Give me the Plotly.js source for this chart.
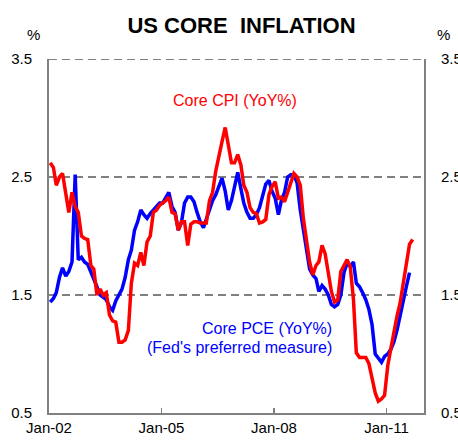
<!DOCTYPE html>
<html>
<head>
<meta charset="utf-8">
<script src="https://cdn.plot.ly/plotly-3.0.1.min.js"></script>
<style>html,body{margin:0;padding:0;background:#fff;}#chart{width:458px;height:442px;}</style>
</head>
<body>
<div id="chart"></div>
<script>
// Monthly data starting Jan 2002
const startYear = 2002;
const coreCPI = [
  2.62, 2.58, 2.43, 2.50, 2.53, 2.35, 2.20, 2.37, 2.25, 2.20, 2.00, 1.98,
  1.97, 1.75, 1.72, 1.50, 1.55, 1.50, 1.52, 1.33, 1.28, 1.27, 1.10, 1.10,
  1.12, 1.20, 1.60, 1.77, 1.75, 1.86, 1.75, 1.95, 2.00, 2.20, 2.22, 2.26,
  2.28, 2.30, 2.33, 2.20, 2.19, 2.05, 2.12, 2.12, 1.92, 2.10, 2.12, 2.12,
  2.11, 2.11, 2.11, 2.30, 2.37, 2.55, 2.66, 2.80, 2.92, 2.75, 2.62, 2.62,
  2.69, 2.60, 2.43, 2.37, 2.24, 2.20, 2.19, 2.11, 2.12, 2.14, 2.35, 2.42,
  2.46, 2.32, 2.33, 2.29, 2.37, 2.45, 2.53, 2.50, 2.43, 2.15, 1.95, 1.78,
  1.67, 1.75, 1.78, 1.92, 1.85, 1.70, 1.53, 1.44, 1.46, 1.70, 1.75, 1.80,
  1.74, 1.46, 1.01, 0.97, 0.97, 0.97, 0.92, 0.80, 0.67, 0.60, 0.62, 0.65,
  0.90, 1.05, 1.20, 1.32, 1.43, 1.60, 1.80, 1.93, 1.97
];
const corePCE = [
  1.44, 1.47, 1.52, 1.65, 1.73, 1.66, 1.70, 1.78, 2.52, 1.80, 1.82, 1.78,
  1.76, 1.70, 1.63, 1.57, 1.50, 1.48, 1.46, 1.40, 1.37, 1.45, 1.50, 1.55,
  1.65, 1.80, 1.88, 2.05, 2.12, 2.22, 2.18, 2.15, 2.19, 2.22, 2.26, 2.28,
  2.28, 2.33, 2.37, 2.25, 2.20, 2.05, 2.11, 2.28, 2.33, 2.33, 2.29, 2.20,
  2.12, 2.07, 2.15, 2.22, 2.30, 2.35, 2.42, 2.49, 2.38, 2.22, 2.30, 2.43,
  2.54, 2.40, 2.28, 2.20, 2.15, 2.15, 2.18, 2.24, 2.35, 2.44, 2.47, 2.38,
  2.32, 2.18, 2.30, 2.37, 2.50, 2.52, 2.52, 2.45, 2.22, 2.05, 1.90, 1.72,
  1.67, 1.64, 1.53, 1.58, 1.55, 1.50, 1.42, 1.40, 1.42, 1.50, 1.69, 1.77,
  1.74, 1.78, 1.60, 1.57, 1.52, 1.46, 1.38, 1.25, 1.00, 0.97, 0.93, 0.98,
  1.00, 1.04, 1.10, 1.20, 1.33, 1.45, 1.57, 1.69
];
const xTickVals = ['2002-01-01', '2005-01-01', '2008-01-01', '2011-01-01'];
const xTickText = ['Jan-02', 'Jan-05', 'Jan-08', 'Jan-11'];
const yTickVals = [0.5, 1.5, 2.5, 3.5];
const yTickText = ['0.5', '1.5', '2.5', '3.5'];

function monthDates(n) {
  const out = [];
  for (let i = 0; i < n; i++) {
    const y = startYear + Math.floor(i / 12);
    const m = (i % 12) + 1;
    out.push(y + '-' + String(m).padStart(2, '0') + '-13');
  }
  return out;
}

const FONT = 'Liberation Sans, Arial, sans-serif';
const GRAY = '#808080';
const DASH = '8px,5px';

const traces = [
  {x: monthDates(corePCE.length), y: corePCE, type: 'scatter', mode: 'lines',
   line: {color: '#0000FF', width: 3.5}, hoverinfo: 'skip', showlegend: false},
  {x: monthDates(coreCPI.length), y: coreCPI, type: 'scatter', mode: 'lines',
   line: {color: '#FF0000', width: 3.5}, hoverinfo: 'skip', showlegend: false},
  {x: [xTickVals[0]], y: [yTickVals[0]], yaxis: 'y2', type: 'scatter', mode: 'markers',
   marker: {opacity: 0}, hoverinfo: 'skip', showlegend: false}
];

const plotL = 49, plotR = 424, plotT = 59, plotB = 413, W = 458, H = 442;
const px = v => (v - plotL) / (plotR - plotL);
const py = v => (plotB - v) / (plotB - plotT);

const layout = {
  width: W, height: H,
  margin: {l: plotL, r: W - plotR, t: plotT, b: H - plotB, pad: 0},
  paper_bgcolor: '#fff', plot_bgcolor: '#fff',
  font: {family: FONT, size: 15, color: '#000'},
  title: {text: '<b>US CORE  INFLATION</b>', font: {family: FONT, size: 22, color: '#000'},
          x: 241.5 / W, xanchor: 'center', y: 1 - 25 / H, yanchor: 'middle'},
  xaxis: {
    type: 'date', range: ['2002-01-01', '2012-01-01'],
    tickmode: 'array', tickvals: xTickVals, ticktext: xTickText,
    ticks: 'inside', ticklen: 5, tickwidth: 1.5, tickcolor: GRAY,
    showline: true, linecolor: GRAY, linewidth: 2,
    showgrid: false, zeroline: false, fixedrange: true,
    tickfont: {family: FONT, size: 15, color: '#000'}
  },
  yaxis: {
    range: [0.5, 3.5], tickmode: 'array', tickvals: yTickVals, ticktext: yTickText,
    ticks: '', showline: true, linecolor: GRAY, linewidth: 2,
    showgrid: true, gridcolor: GRAY, gridwidth: 2, griddash: DASH,
    zeroline: false, fixedrange: true, ticklabelstandoff: 12,
    tickfont: {family: FONT, size: 15, color: '#000'}
  },
  yaxis2: {
    range: [0.5, 3.5], overlaying: 'y', side: 'right',
    tickmode: 'array', tickvals: yTickVals, ticktext: yTickText,
    ticks: '', showline: true, linecolor: GRAY, linewidth: 2,
    showgrid: false, zeroline: false, fixedrange: true, ticklabelstandoff: 12,
    tickfont: {family: FONT, size: 15, color: '#000'}
  },
  shapes: [
    {type: 'line', xref: 'paper', yref: 'y', x0: 0, x1: 1, y0: 3.5, y1: 3.5,
     line: {color: GRAY, width: 2, dash: DASH}}
  ],
  annotations: [
    {text: '%', xref: 'paper', yref: 'paper', x: px(33), y: py(35), xanchor: 'center', yanchor: 'middle',
     showarrow: false, font: {family: FONT, size: 15, color: '#000'}},
    {text: '%', xref: 'paper', yref: 'paper', x: px(443), y: py(35), xanchor: 'center', yanchor: 'middle',
     showarrow: false, font: {family: FONT, size: 15, color: '#000'}},
    {text: 'Core CPI (YoY%)', xref: 'paper', yref: 'paper', x: px(234.5), y: py(100), xanchor: 'center', yanchor: 'middle',
     showarrow: false, font: {family: FONT, size: 16, color: '#FF0000'}},
    {text: 'Core PCE (YoY%)', xref: 'paper', yref: 'paper', x: px(334), y: py(328), xanchor: 'right', yanchor: 'middle',
     showarrow: false, font: {family: FONT, size: 16, color: '#0000FF'}},
    {text: "(Fed's preferred measure)", xref: 'paper', yref: 'paper', x: px(334), y: py(347), xanchor: 'right', yanchor: 'middle',
     showarrow: false, font: {family: FONT, size: 16, color: '#0000FF'}}
  ]
};

Plotly.newPlot('chart', traces, layout, {staticPlot: true, displayModeBar: false});
</script>
</body>
</html>
